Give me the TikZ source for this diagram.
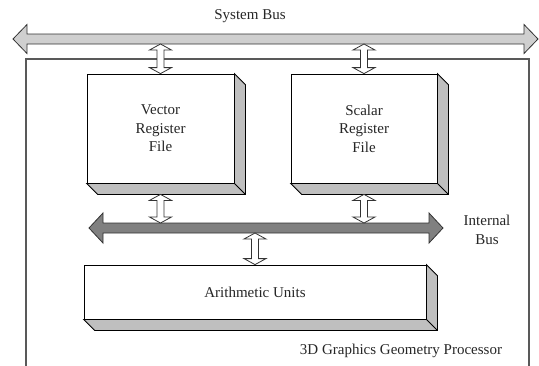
\documentclass[tikz,border=0pt]{standalone}
\usepackage{fontspec}
\setmainfont{Liberation Serif}
\usetikzlibrary{calc}

\tikzset{
  every node/.style={inner sep=0pt, font=\fontsize{15}{18.5}\selectfont, text=black!85},
  % horizontal block arrow: head length, head half width, shaft half width
  blockh/.style n args={3}{to path={let \p1=(\tikztostart), \p2=(\tikztotarget) in
    (\x1,\y1) -- (\x1+#1pt,\y1+#2pt) -- (\x1+#1pt,\y1+#3pt) -- (\x2-#1pt,\y1+#3pt)
    -- (\x2-#1pt,\y1+#2pt) -- (\x2,\y1) -- (\x2-#1pt,\y1-#2pt) -- (\x2-#1pt,\y1-#3pt)
    -- (\x1+#1pt,\y1-#3pt) -- (\x1+#1pt,\y1-#2pt) -- cycle}},
  % vertical block arrow, from top to bottom
  blockv/.style n args={3}{to path={let \p1=(\tikztostart), \p2=(\tikztotarget) in
    (\x1,\y1) -- (\x1+#2pt,\y1-#1pt) -- (\x1+#3pt,\y1-#1pt) -- (\x1+#3pt,\y2+#1pt)
    -- (\x1+#2pt,\y2+#1pt) -- (\x1,\y2) -- (\x1-#2pt,\y2+#1pt) -- (\x1-#3pt,\y2+#1pt)
    -- (\x1-#3pt,\y1-#1pt) -- (\x1-#2pt,\y1-#1pt) -- cycle}},
  sysbus/.style={draw=black!80, fill=black!19, line width=0.8pt, line join=miter, blockh={14}{14.5}{5}},
  intbus/.style={draw=black!80, fill=black!50, line width=0.8pt, line join=miter, blockh={14}{15}{5}},
  link/.style={draw=black!80, fill=white, line width=0.8pt, line join=miter, blockv={6}{11}{3.5}},
  unit/.style={draw=black, fill=white, line width=0.8pt, align=center},
  side/.style={draw=black, fill=black!25, line width=0.8pt, line join=miter},
  frame/.style={draw=black!65, line width=1.2pt},
}

\begin{document}
\begin{tikzpicture}[x=1pt,y=-1pt]
\useasboundingbox (0,0) rectangle (539,365);

% processor frame
\draw[frame] (26,370) -- (26,59) -- (529,59) -- (529,370);
\node (proc) at (401,351) {3D Graphics Geometry Processor};

% system bus
\coordinate (sbL) at (13,39);
\coordinate (sbR) at (538,39);
\path (sbL) ++(0,5) coordinate (sbB);
\draw[sysbus] (sbL) to (sbR);
\node (sblabel) at (250,16) {System Bus};

% register files
\node[unit, minimum width=147, minimum height=109] (vrf) at (160.5,128.5) {Vector\\Register\\File};
\node[unit, minimum width=146, minimum height=109] (srf) at (364,128.5) {Scalar\\Register\\File};

% internal bus
\coordinate (ibL) at (89,228);
\coordinate (ibR) at (443,228);
\path (ibL) ++(0,-5) coordinate (ibT);
\path (ibL) ++(0,5) coordinate (ibB);
\draw[intbus] (ibL) to (ibR);
\node[align=center] (iblabel) at (487,230) {Internal\\Bus};

% arithmetic units
\node[unit, minimum width=342, minimum height=54] (au) at (255,292) {Arithmetic Units};

% 3D sides
\foreach \n in {vrf,srf,au}
  \draw[side] (\n.north east) -- ++(11,11) -- ($(\n.south east)+(11,11)$)
    -- ($(\n.south west)+(11,11)$) -- (\n.south west) -- (\n.south east) -- cycle
    (\n.south east) -- ++(11,11);

% links
\draw[link] (vrf.north |- sbB) to (vrf.north);
\draw[link] (srf.north |- sbB) to (srf.north);
\draw[link] ($(vrf.south)+(0,11)$) to (vrf.south |- ibT);
\draw[link] ($(srf.south)+(0,11)$) to (srf.south |- ibT);
\draw[link] (au.north |- ibB) to (au.north);
\end{tikzpicture}
\end{document}
